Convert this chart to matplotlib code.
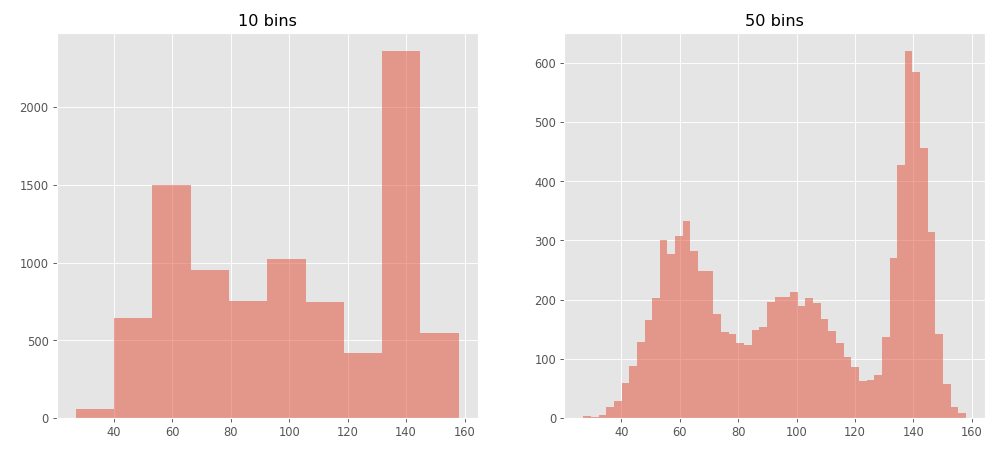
import numpy as np
import matplotlib
matplotlib.use('Agg')
import matplotlib.pyplot as plt

plt.style.use('ggplot')

x_min, x_max = 27.0, 158.0

counts_10 = [60, 645, 1500, 955, 750, 1020, 745, 420, 2360, 545]

counts_50 = [3, 2, 5, 18, 28, 60, 88, 128, 165, 203,
             300, 277, 307, 333, 282, 248, 248, 175, 145, 142,
             127, 124, 148, 153, 196, 205, 205, 213, 190, 202,
             195, 168, 147, 127, 103, 87, 62, 65, 72, 137,
             270, 427, 620, 585, 457, 315, 142, 58, 18, 8]

fig, axes = plt.subplots(1, 2, figsize=(11.99, 5.45), dpi=83)

for ax, counts, title in zip(axes, [counts_10, counts_50], ['10 bins', '50 bins']):
    edges = np.linspace(x_min, x_max, len(counts) + 1)
    ax.bar(edges[:-1], counts, width=np.diff(edges), align='edge', alpha=0.5,
           color='#E24A33')
    ax.set_title(title, fontsize=14)
    ax.set_xticks([40, 60, 80, 100, 120, 140, 160])

fig.subplots_adjust(left=0.057, right=0.99, top=0.927, bottom=0.075, wspace=0.205)
plt.savefig('out.png')
plt.close()
